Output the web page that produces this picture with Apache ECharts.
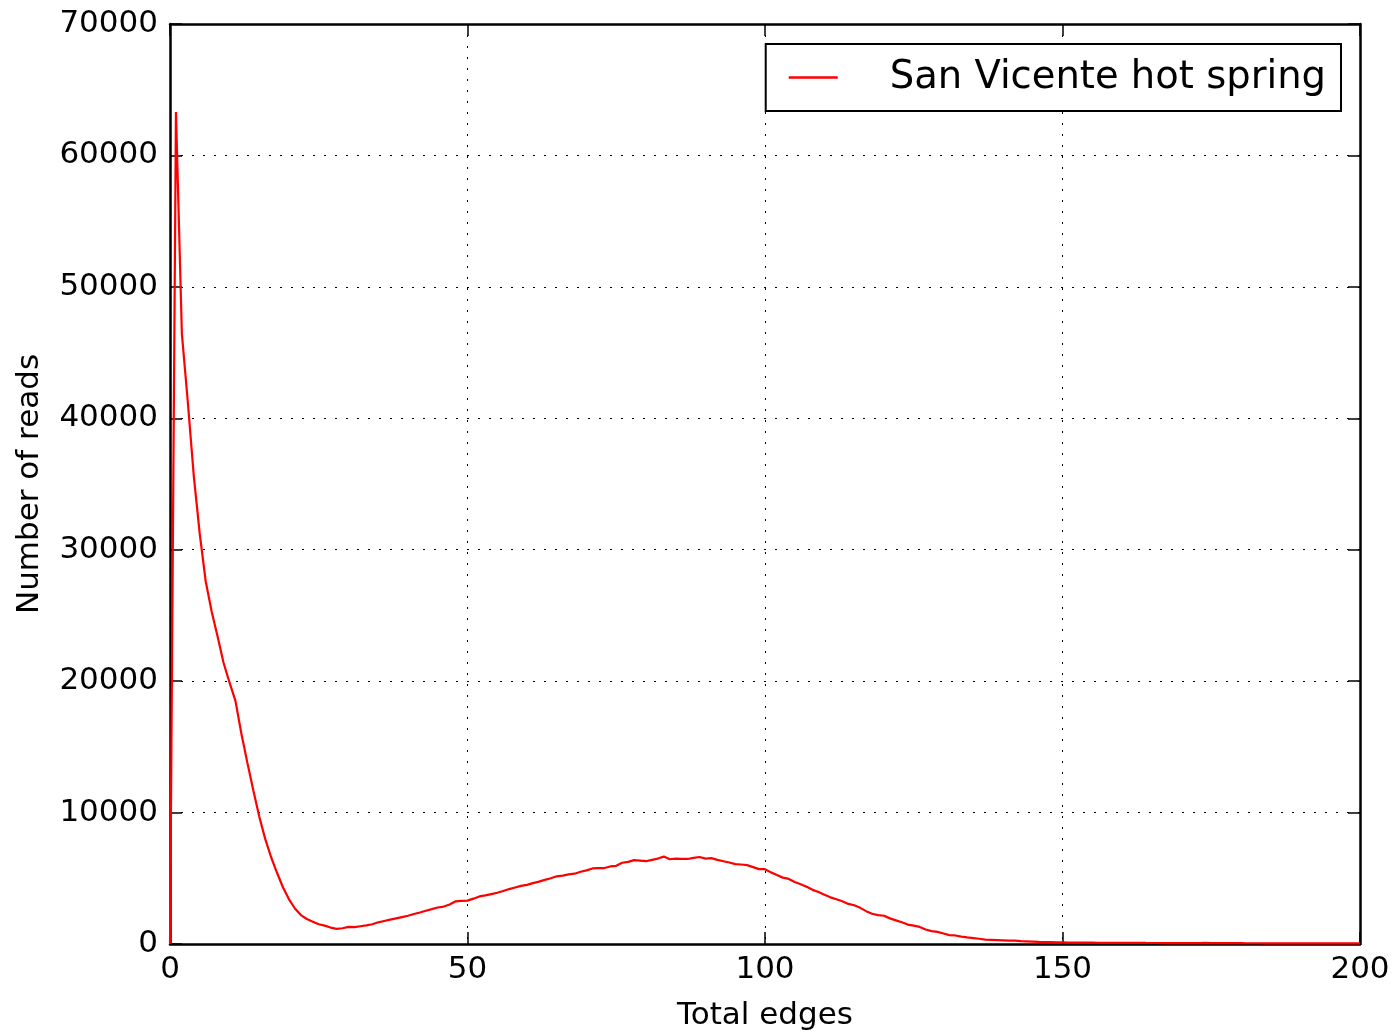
<!DOCTYPE html>
<html>
<head>
<meta charset="utf-8">
<script src="https://cdn.jsdelivr.net/npm/echarts@6/dist/echarts.min.js"></script>
<style>
html,body{margin:0;padding:0;background:#fff;}
#chart{width:1394px;height:1036px;}
</style>
</head>
<body>
<div id="chart"></div>
<script>
const seriesName = 'San Vicente hot spring';
const xTicks = [0, 50, 100, 150, 200];
const yTicks = [0, 10000, 20000, 30000, 40000, 50000, 60000, 70000];
// Number of reads for total edges 0,1,2,...,200
const readCounts = [
  0, 63300, 46400, 41200, 35600, 31200, 27600, 25300, 23400, 21400,
  19900, 18500, 16000, 13800, 11700, 9700, 8000, 6600, 5400, 4300,
  3400, 2700, 2200, 1900, 1700, 1500, 1400, 1250, 1150, 1200,
  1300, 1280, 1350, 1420, 1500, 1650, 1750, 1850, 1950, 2050,
  2150, 2280, 2400, 2530, 2650, 2780, 2850, 3000, 3250, 3280,
  3300, 3450, 3620, 3700, 3800, 3900, 4030, 4180, 4300, 4420,
  4500, 4630, 4750, 4880, 5000, 5150, 5200, 5300, 5350, 5500,
  5600, 5750, 5780, 5780, 5900, 5950, 6180, 6250, 6380, 6350,
  6300, 6400, 6500, 6650, 6450, 6500, 6480, 6470, 6550, 6620,
  6500, 6530, 6400, 6300, 6200, 6080, 6050, 6000, 5850, 5700,
  5690, 5450, 5250, 5050, 4950, 4720, 4550, 4350, 4120, 3950,
  3750, 3550, 3400, 3250, 3050, 2950, 2750, 2500, 2300, 2200,
  2150, 1950, 1800, 1650, 1480, 1400, 1300, 1100, 980, 920,
  800, 680, 650, 560, 500, 450, 400, 330, 320, 300,
  280, 260, 250, 220, 200, 180, 160, 150, 140, 130,
  125, 115, 110, 105, 100, 98, 95, 92, 90, 88,
  85, 84, 82, 80, 78, 77, 75, 74, 72, 70,
  70, 68, 67, 66, 80, 64, 63, 62, 61, 60,
  60, 58, 57, 56, 55, 55, 54, 53, 52, 52,
  51, 50, 50, 49, 48, 48, 47, 46, 46, 45,
  40
];
const totalEdges = readCounts.map((_, i) => i);
const points = totalEdges.map((x, i) => [x, readCounts[i]]);

const FONT = 'DejaVu Sans';
const chart = echarts.init(document.getElementById('chart'));
const axisLine = { show: true, onZero: false, lineStyle: { color: '#000', width: 2.5 } };
const tick = { show: true, inside: true, length: 12, lineStyle: { color: '#000', width: 1.5 } };
const grid = { show: true, lineStyle: { color: '#000', width: 1, type: [2, 9] } };

chart.setOption({
  animation: false,
  backgroundColor: '#fff',
  grid: { left: 170, right: 34, top: 24, bottom: 90, containLabel: false },
  legend: {
    data: [seriesName],
    right: 53, top: 44,
    orient: 'vertical',
    padding: [14, 15, 14, 23],
    borderColor: '#000', borderWidth: 2,
    backgroundColor: '#fff',
    itemWidth: 49, itemHeight: 2.5,
    icon: 'rect',
    textStyle: { fontFamily: FONT, fontSize: 38.5, color: '#000', padding: [0, 0, 0, 47] }
  },
  xAxis: [{
    type: 'value', min: xTicks[0], max: xTicks[xTicks.length - 1], interval: 50,
    name: 'Total edges', nameLocation: 'middle', nameGap: 56,
    nameTextStyle: { fontFamily: FONT, fontSize: 31, color: '#000' },
    axisLine, axisTick: tick, splitLine: grid,
    axisLabel: { fontFamily: FONT, fontSize: 31, color: '#000', margin: 10 }
  }, {
    type: 'value', position: 'top', min: xTicks[0], max: xTicks[xTicks.length - 1], interval: 50,
    axisLine, axisTick: tick, splitLine: { show: false }, axisLabel: { show: false }
  }],
  yAxis: [{
    type: 'value', min: yTicks[0], max: yTicks[yTicks.length - 1], interval: 10000,
    name: 'Number of reads', nameLocation: 'middle', nameGap: 125,
    nameTextStyle: { fontFamily: FONT, fontSize: 31, color: '#000' },
    axisLine, axisTick: tick, splitLine: grid,
    axisLabel: { fontFamily: FONT, fontSize: 31, color: '#000', margin: 12, formatter: v => String(v) }
  }, {
    type: 'value', position: 'right', min: yTicks[0], max: yTicks[yTicks.length - 1], interval: 10000,
    axisLine, axisTick: tick, splitLine: { show: false }, axisLabel: { show: false }
  }],
  series: [{
    name: seriesName,
    type: 'line',
    data: points,
    showSymbol: false,
    lineStyle: { color: '#ff0000', width: 2.2 },
    itemStyle: { color: '#ff0000' },
    z: 5
  }]
});
</script>
</body>
</html>
